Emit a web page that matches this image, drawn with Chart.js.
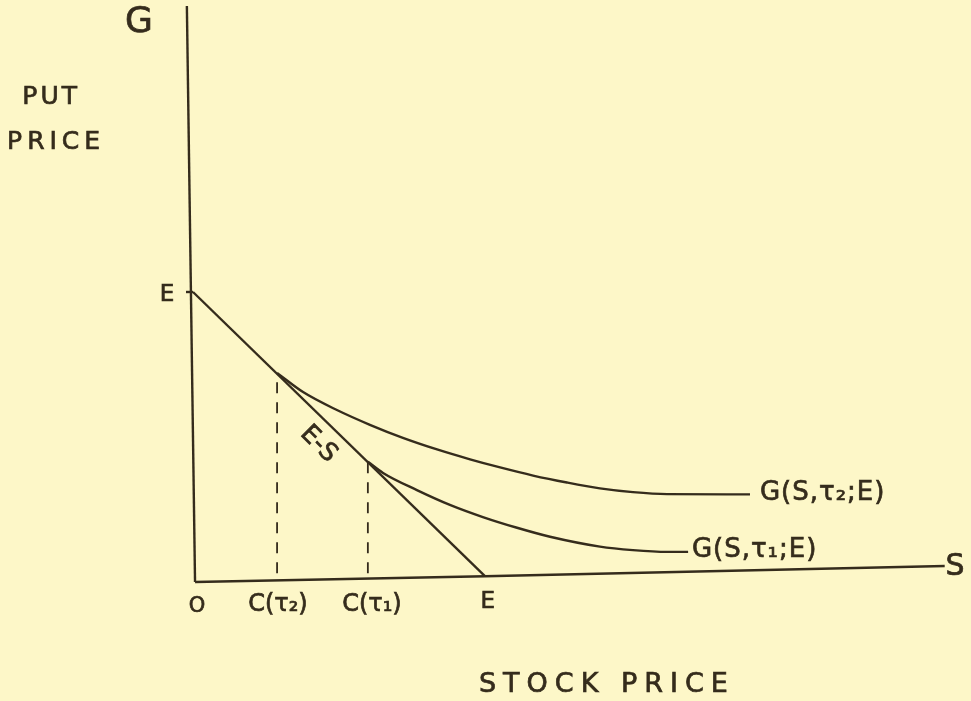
<!DOCTYPE html>
<html>
<head>
<meta charset="utf-8">
<script src="https://cdn.jsdelivr.net/npm/chart.js@4"></script>
<style>
  html, body { margin: 0; padding: 0; background: #fdf7c8; }
  canvas { display: block; }
</style>
</head>
<body>
<canvas id="chart" width="971" height="701"></canvas>
<script>
// hand-drawn axes (x = stock price S, y = put price G), E = 10
const axisXs = [0.07, 10, 25.75];
const axisXg = [0, 0.2, 0.55];
const axisYs = [0.07, -0.21];
const axisYg = [0, 19.86];
const tickEs = [-0.24, 0];
const tickEg = [10, 10];

// intrinsic value line E - S
const lineS = [0, 10];
const lineG = [10, 0.2];

// G(S, tau2; E)  (longer maturity), leaves E-S at C(tau2)
const curve2S = [2.88, 3.77, 4.93, 6.06, 7.19, 8.36, 9.49, 10.52, 11.65, 12.81, 13.94, 15.07, 16.24, 19.08];
const curve2G = [7.21, 6.55, 5.93, 5.42, 4.97, 4.57, 4.23, 3.95, 3.67, 3.43, 3.23, 3.10, 3.03, 3.02];

// G(S, tau1; E), leaves E-S at C(tau1)
const curve1S = [5.99, 6.51, 7.67, 8.80, 9.93, 11.10, 12.23, 13.94, 15.07, 16.24, 16.96];
const curve1G = [4.15, 3.76, 3.17, 2.66, 2.24, 1.87, 1.56, 1.22, 1.10, 1.04, 1.04];

// critical prices C(tau2), C(tau1)
const critS = [2.88, 5.99];
const critG = [7.21, 4.15];

const ink = "#352c1c";
const hand = "'DejaVu Sans', sans-serif";

function pts(xs, ys) {
    return xs.map((x, i) => ({ x: x, y: ys[i] }));
}

function solid(xs, ys, smooth) {
    return {
        data: pts(xs, ys),
        showLine: true,
        borderColor: ink,
        borderWidth: 2.4,
        pointRadius: 0,
        clip: false,
        cubicInterpolationMode: smooth ? "monotone" : "default",
        tension: 0
    };
}

const datasets = [
    solid(axisXs, axisXg, false),
    solid(axisYs, axisYg, false),
    solid(tickEs, tickEg, false),
    solid(lineS, lineG, false),
    solid(curve2S, curve2G, true),
    solid(curve1S, curve1G, true)
];
critS.forEach((s, i) => {
    const d = solid([s, s], [0.3, critG[i]], false);
    d.borderDash = [11, 9];
    d.borderWidth = 1.8;
    datasets.push(d);
});

// text written on the sketch (position in data units)
const notes = [
    { t: "G", x: -1.85, y: 19.28, size: 36 },
    { t: "PUT", x: -4.86, y: 16.69, size: 25, sp: 3 },
    { t: "PRICE", x: -4.69, y: 15.14, size: 25, sp: 5 },
    { t: "E", x: -0.89, y: 9.9, size: 23 },
    { t: "O", x: 0.14, y: -0.86, size: 21 },
    { t: "C(τ₂)", x: 2.91, y: -0.79, size: 24 },
    { t: "C(τ₁)", x: 6.13, y: -0.79, size: 24 },
    { t: "E", x: 10.1, y: -0.69, size: 23 },
    { t: "G(S,τ₂;E)", x: 19.42, y: 3.07, size: 26, align: "left", sp: 1 },
    { t: "G(S,τ₁;E)", x: 17.09, y: 1.1, size: 26, align: "left", sp: 1 },
    { t: "S", x: 26.1, y: 0.52, size: 30 },
    { t: "STOCK PRICE", x: 14.18, y: -3.55, size: 27, sp: 7 },
    { t: "E-S", x: 4.3, y: 4.75, size: 25, rot: 45 }
];

const notePlugin = {
    id: "notes",
    afterDraw(chart) {
        const ctx = chart.ctx;
        const sx = chart.scales.x, sy = chart.scales.y;
        notes.forEach(n => {
            ctx.save();
            ctx.fillStyle = ink;
            ctx.strokeStyle = ink;
            ctx.lineWidth = 0.7;
            ctx.font = n.size + "px " + hand;
            ctx.letterSpacing = (n.sp || 0) + "px";
            ctx.textAlign = n.align || "center";
            ctx.textBaseline = "middle";
            ctx.translate(sx.getPixelForValue(n.x), sy.getPixelForValue(n.y));
            if (n.rot) ctx.rotate(n.rot * Math.PI / 180);
            ctx.fillText(n.t, 0, 0);
            ctx.strokeText(n.t, 0, 0);
            ctx.restore();
        });
    }
};

new Chart(document.getElementById("chart"), {
    type: "scatter",
    data: { datasets: datasets },
    options: {
        responsive: false,
        animation: false,
        layout: { padding: { left: 193, right: 19, top: 2, bottom: 119 } },
        plugins: { legend: { display: false }, tooltip: { enabled: false } },
        scales: {
            x: { type: "linear", min: 0, max: 26, display: false },
            y: { type: "linear", min: 0, max: 20, display: false }
        }
    },
    plugins: [notePlugin]
});
</script>
</body>
</html>
